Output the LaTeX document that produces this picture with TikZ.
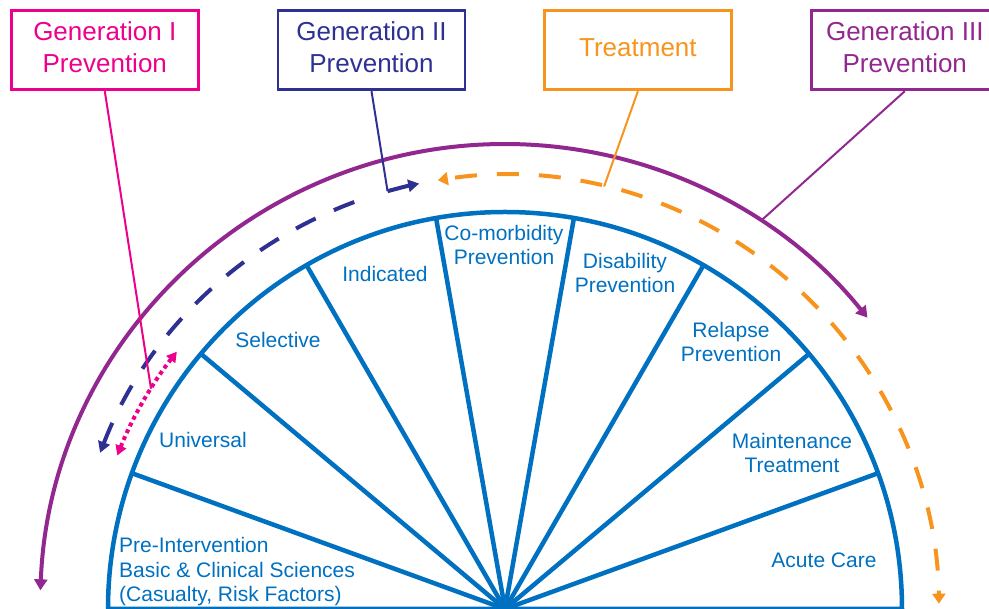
\documentclass[tikz,border=0pt]{standalone}
\usepackage{fontspec}
\setmainfont{Liberation Sans}
\usetikzlibrary{arrows.meta,calc}
\definecolor{cblue}{RGB}{0,112,192}
\definecolor{cpink}{RGB}{236,0,140}
\definecolor{cnavy}{RGB}{46,49,146}
\definecolor{corange}{RGB}{247,148,29}
\definecolor{cpurple}{RGB}{146,39,143}
\newcommand{\dropstrut}{\rule[-6pt]{0pt}{0pt}}
\begin{document}
\begin{tikzpicture}[x=1pt,y=1pt,
  titlebox/.style={draw, line width=2.8pt, minimum width=187pt, minimum height=79pt,
    align=center, font=\fontsize{26}{32}\selectfont, inner sep=0pt},
  sector/.style={text=cblue, font=\fontsize{21}{24.5}\selectfont, align=center, inner sep=0pt, anchor=base},
  fanline/.style={draw=cblue, line width=4.5pt, line join=round},
  callout/.style={line width=2pt},
]
\useasboundingbox (0,0) rectangle (989,609);
\coordinate (C) at (505,0);

% fan
\draw[fanline] ($(C)+(180:397)$) arc[start angle=180, end angle=0, radius=397] -- cycle;
\foreach \a in {20,40,...,160} \draw[fanline] (C) -- ($(C)+(\a:397)$);

% sector labels (base = baseline of last line)
\node[sector, anchor=base west, align=left] (pre) at (119,7) {Pre-Intervention\\Basic \& Clinical Sciences\\(Casualty, Risk Factors)};
\node[sector] (uni) at (203,161) {Universal};
\node[sector] (sel) at (278,261) {Selective};
\node[sector] (ind) at (385,327) {Indicated};
\node[sector] (com) at (504,344) {Co-morbidity\\Prevention};
\node[sector] (dis) at (625,316) {Disability\\Prevention};
\node[sector] (rel) at (731,247) {Relapse\\Prevention};
\node[sector] (mai) at (792,136) {Maintenance\\Treatment};
\node[sector] (acu) at (824,41) {Acute Care};

% title boxes
\node[titlebox, draw=cpink, text=cpink] (g1) at (104.8,558.7) {Generation I\\Prevention\dropstrut};
\node[titlebox, draw=cnavy, text=cnavy] (g2) at (371.5,558.7) {Generation II\\Prevention\dropstrut};
\node[titlebox, draw=corange, text=corange] (tr) at (637.9,558.7) {Treatment\rule[-5pt]{0pt}{0pt}};
\node[titlebox, draw=cpurple, text=cpurple] (g3) at (904.8,558.7) {Generation III\\Prevention\dropstrut};

% arc anchor points
\coordinate (p1) at ($(C)+(148.1:417)$);
\coordinate (p2) at ($(C)+(105.7:434)$);
\coordinate (p3) at ($(C)+(76.8:434)$);
\coordinate (p4) at ($(C)+(56.6:465)$);

% purple arc
\draw[cpurple, line width=4pt, {Triangle[length=11pt,width=13pt]}-{Triangle[length=11pt,width=13pt]}]
  ($(C)+(177.7:465)$) arc[start angle=177.7, end angle=38.8, radius=465];

% orange dashed arc
\draw[corange, line width=4pt, dash pattern=on 22pt off 20pt, dash phase=-8pt,
  {Triangle[length=10pt,width=13pt]}-{Triangle[length=10pt,width=13pt]}]
  ($(C)+(98.9:434)$) arc[start angle=98.9, end angle=0.7, radius=434];

% navy dashed arc
\draw[cnavy, line width=4pt, dash pattern=on 22pt off 20pt,
  {Triangle[length=11pt,width=12pt]}-]
  ($(C)+(158.9:434)$) arc[start angle=158.9, end angle=108.5, radius=434];
\draw[cnavy, line width=4pt, -{Triangle[length=11pt,width=12pt]}]
  (p2) arc[start angle=105.7, end angle=101.4, radius=434];

% pink dotted arc
\draw[cpink, line width=4pt, dash pattern=on 4pt off 3.5pt,
  {Triangle[length=10pt,width=11pt]}-{Triangle[length=10pt,width=11pt]}]
  ($(C)+(141.9:417)$) arc[start angle=141.9, end angle=158.4, radius=417];

% callouts
\draw[callout, cpink] (g1.south) -- (p1);
\draw[callout, cnavy] (g2.south) -- (p2);
\draw[callout, corange] (tr.south) -- (p3);
\draw[callout, cpurple] (g3.south) -- (p4);
\end{tikzpicture}
\end{document}
